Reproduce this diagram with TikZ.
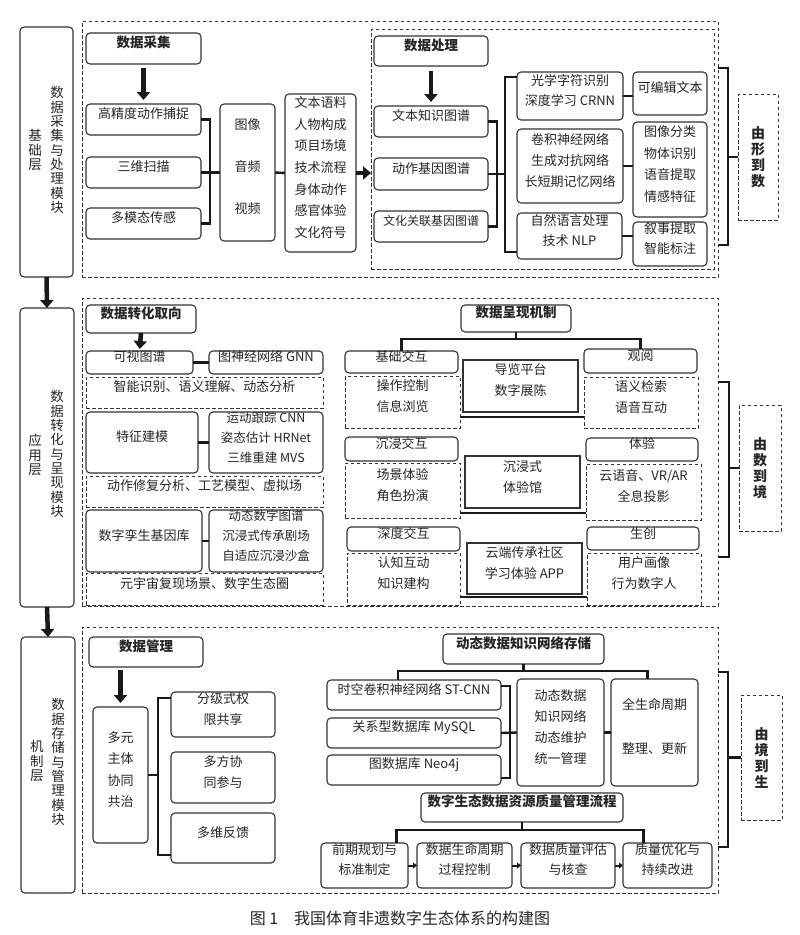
\documentclass[tikz,border=0pt]{standalone}
\usepackage{fontspec}
\setmainfont{Noto Sans CJK SC}
\usetikzlibrary{arrows.meta,fit,calc}
\tikzset{
 base/.style={inner sep=0pt,outer sep=0pt,align=center,font=\fontsize{13}{21}\selectfont,text=black!85},
 rb/.style={base,draw=black!80,line width=1.1pt,rounded corners=4pt},
 sb/.style={base,draw=black!80,line width=1.1pt},
 db/.style={base,draw=black!80,line width=0.9pt,dash pattern=on 3.5pt off 2.5pt},
 hd/.style={font=\fontsize{13.5}{21}\selectfont\bfseries},
 brk/.style={line width=2.4pt,draw=black!90},
 bigarr/.style={line width=4.5pt,draw=black!90,-{Triangle[width=13pt,length=8pt]}},
 smarr/.style={line width=2pt,draw=black!90,-{Triangle[width=6pt,length=4pt]}},
 vt/.style={inner sep=0pt,align=center,font=\fontsize{13.5}{14.3}\selectfont,text=black!85},
 vtb/.style={inner sep=0pt,align=center,font=\fontsize{14}{16}\selectfont\bfseries,text=black!85},
}
\newcommand\bx[7]{\node[#1,fit={(#3,#4) (#5,#6)}] (#2) {#7};}
\begin{document}
\begin{tikzpicture}[x=1pt,y=-1pt]
\useasboundingbox (0,0) rectangle (800,935);
\fill[white] (0,0) rectangle (800,935);
% ===== TOP =====
\bx{rb}{lay1}{20}{27}{73}{277}{}
\node[vt] (t1a) at (35,150) {基\\础\\层};
\node[vt] (t1b) at (57,150) {数\\据\\采\\集\\与\\处\\理\\模\\块};
\bx{db}{O1}{82}{21}{718}{277}{}
\bx{rb,hd}{sj}{86}{33}{201}{64}{数据采集}
\bx{rb}{gj}{86}{104}{201}{135}{高精度动作捕捉}
\bx{rb}{sw}{86}{157}{201}{188}{三维扫描}
\bx{rb}{dm}{86}{208}{201}{239}{多模态传感}
\bx{rb,font=\fontsize{13}{42}\selectfont}{tx}{220}{104}{275}{241}{图像\\音频\\视频}
\bx{rb,font=\fontsize{13}{21.7}\selectfont}{wb}{285}{94}{356}{252}{文本语料\\人物构成\\项目场境\\技术流程\\身体动作\\感官体验\\文化符号}
\bx{db}{I1}{371}{29}{714}{269}{}
\bx{rb,hd}{cl}{374}{36}{488}{66}{数据处理}
\bx{rb}{wz}{374}{106}{488}{137}{文本知识图谱}
\bx{rb}{dz}{374}{158}{488}{190}{动作基因图谱}
\bx{rb,font=\fontsize{12}{20}\selectfont}{wh}{374}{211}{488}{242}{文化关联基因图谱}
\bx{rb,align=left,font=\fontsize{13}{20}\selectfont}{gx}{517}{72}{623}{120}{光学字符识别\\深度学习 CRNN}
\bx{rb,align=left}{jj}{517}{129}{623}{203}{卷积神经网络\\生成对抗网络\\长短期记忆网络}
\bx{rb,align=left,font=\fontsize{13}{20}\selectfont}{zr}{517}{213}{622}{259}{自然语言处理\\技术 NLP}
\bx{rb}{kb}{633}{72}{707}{115}{可编辑文本}
\bx{rb,font=\fontsize{13}{21.7}\selectfont}{tf}{633}{122}{707}{217}{图像分类\\物体识别\\语音提取\\情感特征}
\bx{rb,font=\fontsize{13}{20}\selectfont}{xs}{633}{222}{707}{266}{叙事提取\\智能标注}
\bx{db}{xd}{738}{94}{778}{220}{}
\node[vtb] (xdt) at (xd) {由\\形\\到\\数};
\draw[bigarr,shorten <=4pt,shorten >=4pt] (sj.south) -- (gj.north);
\draw[bigarr,shorten <=5pt,shorten >=4pt] (cl.south) -- (wz.north);
\draw[brk] (gj.east) -- ++(9,0) |- (dm.east);
\draw[brk] (sw.east) -- (tx.west);
\draw[brk] (tx.east) -- (wb.west);
\draw[bigarr] (wb.east) -- (wb.east -| I1.west);
\draw[brk] (wz.east) -- ++(9,0) |- (wh.east);
\draw[brk] (dz.east) -- ++(17,0);
\draw[brk] ([yshift=-5pt]gx.north west) -- ++(-12,0) |- ([yshift=7pt]zr.south west);
\draw[brk] (gx.east) -- (gx.east -| kb.west);
\draw[brk] (jj.east) -- (jj.east -| tf.west);
\draw[brk] (zr.east) -- (zr.east -| xs.west);
\draw[brk] ([yshift=-47pt]O1.north east) -- ++(10,0) |- ([yshift=32pt]O1.south east);
\draw[brk] (xd.west) -- ++(-10,0);
% ===== MIDDLE =====
\bx{rb}{lay2}{20}{308}{74}{607}{}
\node[vt] (t2a) at (35,455) {应\\用\\层};
\node[vt] (t2b) at (57,454) {数\\据\\转\\化\\与\\呈\\现\\模\\块};
\draw[bigarr] (lay1.south) -- (lay2.north);
\bx{db}{O2}{82}{298}{718}{606}{}
\bx{rb,hd}{zh}{86}{305}{196}{333}{数据转化取向}
\bx{rb}{ks}{86}{351}{193}{374}{可视图谱}
\bx{rb}{gnn}{209}{351}{323}{374}{图神经网络 GNN}
\bx{db}{d1}{86}{377}{323}{408}{智能识别、语义理解、动态分析}
\bx{rb}{tz}{86}{412}{198}{473}{特征建模}
\bx{rb,font=\fontsize{12.5}{20}\selectfont}{ydz}{209}{412}{323}{473}{运动跟踪 CNN\\姿态估计 HRNet\\三维重建 MVS}
\bx{db}{d2}{86}{476}{323}{507}{动作修复分析、工艺模型、虚拟场}
\bx{rb}{sz}{86}{510}{202}{572}{数字孪生基因库}
\bx{rb,font=\fontsize{12.5}{20}\selectfont}{dt}{209}{510}{323}{572}{动态数字图谱\\沉浸式传承剧场\\自适应沉浸沙盒}
\bx{db}{d3}{86}{573}{323}{605}{元宇宙复现场景、数字生态圈}
\draw[bigarr,shorten >=2pt] (zh.south) -- (ks.north);
\draw[brk] (ks.east) -- (gnn.west);
\draw[brk] (tz.east) -- (ydz.west);
\draw[brk] (sz.east) -- (dt.west);
\bx{rb,hd}{cx}{461}{305}{571}{332}{数据呈现机制}
\bx{rb}{jc}{345}{351}{458}{373}{基础交互}
\bx{db}{jcd}{345}{376}{460}{428}{操作控制\\信息浏览}
\bx{sb}{dl}{463}{360}{578}{412}{导览平台\\数字展陈}
\bx{rb}{gy}{584}{349}{697}{373}{观阅}
\bx{db}{gyd}{584}{377}{698}{428}{语义检索\\语音互动}
\bx{rb}{cj}{345}{437}{458}{461}{沉浸交互}
\bx{db}{cjd}{345}{463}{460}{518}{场景体验\\角色扮演}
\bx{sb}{tyg}{465}{456}{580}{508}{沉浸式\\体验馆}
\bx{rb}{ty}{586}{438}{698}{461}{体验}
\bx{db}{tyd}{586}{464}{701}{520}{云语音、VR/AR\\全息投影}
\bx{rb}{sd}{347}{527}{460}{551}{深度交互}
\bx{db}{sdd}{347}{553}{460}{605}{认知互动\\知识建构}
\bx{sb}{yd}{467}{543}{582}{594}{云端传承社区\\学习体验 APP}
\bx{rb}{sc}{587}{527}{699}{550}{生创}
\bx{db}{scd}{587}{553}{701}{605}{用户画像\\行为数字人}
\draw[brk] (cx.south) -- ++(0,7) -| (jc.north);
\draw[brk] (cx.south) -- ++(0,7) -| (gy.north);
\coordinate (l1) at ($(dl.south)+(0,5)$);
\coordinate (l2) at ($(tyg.south)+(0,5)$);
\coordinate (l3) at ($(yd.south)+(0,3)$);
\draw[brk] (jcd.east |- l1) -- (gyd.west |- l1);
\draw[brk] (cjd.east |- l2) -- (tyd.west |- l2);
\draw[brk] (sdd.east |- l3) -- (scd.west |- l3);
\bx{db}{sj2}{739}{405}{781}{531}{}
\node[vtb] (sj2t) at (sj2) {由\\数\\到\\境};
\draw[brk] ([yshift=-84pt]O2.north east) -- ++(11,0) |- ([yshift=49pt]O2.south east);
\draw[brk] (sj2.west) -- ++(-10,0);
% ===== BOTTOM =====
\bx{rb}{lay3}{21}{637}{75}{893}{}
\node[vt] (t3a) at (37,761) {机\\制\\层};
\node[vt] (t3b) at (58,762) {数\\据\\存\\储\\与\\管\\理\\模\\块};
\draw[bigarr] (lay2.south) -- (lay3.north);
\bx{db}{O3}{82}{627}{718}{893}{}
\bx{rb,hd}{gl}{89}{637}{203}{667}{数据管理}
\bx{rb,font=\fontsize{13}{21.5}\selectfont}{dy}{93}{707}{148}{843}{多元\\主体\\协同\\共治}
\bx{rb}{fj}{171}{692}{275}{737}{分级式权\\限共享}
\bx{rb}{df}{171}{752}{275}{803}{多方协\\同参与}
\bx{rb}{dw}{171}{813}{275}{863}{多维反馈}
\draw[bigarr,shorten <=3pt,shorten >=4pt] (gl.south -| dy.north) -- (dy.north);
\draw[brk] ([yshift=-6pt]fj.north west) -- ++(-13,0) |- ([yshift=8pt]dw.south west);
\draw[brk] (dy.east) -- ++(10,0);
\bx{rb,hd}{cc}{443}{634}{604}{664}{动态数据知识网络存储}
\bx{rb}{st}{327}{680}{501}{710}{时空卷积神经网络 ST-CNN}
\bx{rb}{my}{327}{718}{501}{748}{关系型数据库 MySQL}
\bx{rb}{neo}{327}{755}{501}{785}{图数据库 Neo4j}
\bx{rb,font=\fontsize{13}{21.3}\selectfont}{dtsj}{517}{679}{604}{786}{动态数据\\知识网络\\动态维护\\统一管理}
\bx{rb}{qs}{611}{679}{698}{786}{全生命周期\\[23pt]整理、更新}
\draw[brk] (cc.south) -- ++(0,7) -| ([xshift=-16pt]st.north);
\draw[brk] (cc.south) -- ++(0,7) -| ([xshift=-7pt]qs.north);
\draw[brk] ([yshift=-6pt]st.north east) -- ++(9,0) |- ([yshift=7pt]neo.south east);
\draw[brk] (my.east) -- (dtsj.west);
\draw[brk] (dtsj.east) -- (qs.west);
\bx{rb,hd}{zl}{421}{793}{623}{822}{数字生态数据资源质量管理流程}
\bx{rb,font=\fontsize{13}{20}\selectfont}{p1}{321}{843}{408}{888}{前期规划与\\标准制定}
\bx{rb,font=\fontsize{13}{20}\selectfont}{p2}{417}{843}{512}{888}{数据生命周期\\过程控制}
\bx{rb,font=\fontsize{13}{20}\selectfont}{p3}{521}{843}{615}{888}{数据质量评估\\与核查}
\bx{rb,font=\fontsize{13}{20}\selectfont}{p4}{623}{843}{712}{888}{质量优化与\\持续改进}
\draw[brk] (zl.south) -- ++(0,8) -| ([xshift=32pt]p1.north);
\draw[brk] (zl.south) -- ++(0,8) -| ([xshift=-24pt]p4.north);
\draw[smarr] (p1.east) -- (p2.west);
\draw[smarr] (p2.east) -- (p3.west);
\draw[smarr] (p3.east) -- (p4.west);
\bx{db}{sj3}{741}{695}{782}{820}{}
\node[vtb] (sj3t) at (sj3) {由\\境\\到\\生};
\draw[brk] ([yshift=-45pt]O3.north east) -- ++(10,0) |- ([yshift=46pt]O3.south east);
\draw[brk] (sj3.west) -- ++(-13,0);
% caption
\node[font=\fontsize{16}{16}\selectfont,text=black!85] (cap) at (400,918) {图 1\quad 我国体育非遗数字生态体系的构建图};
\end{tikzpicture}
\end{document}
